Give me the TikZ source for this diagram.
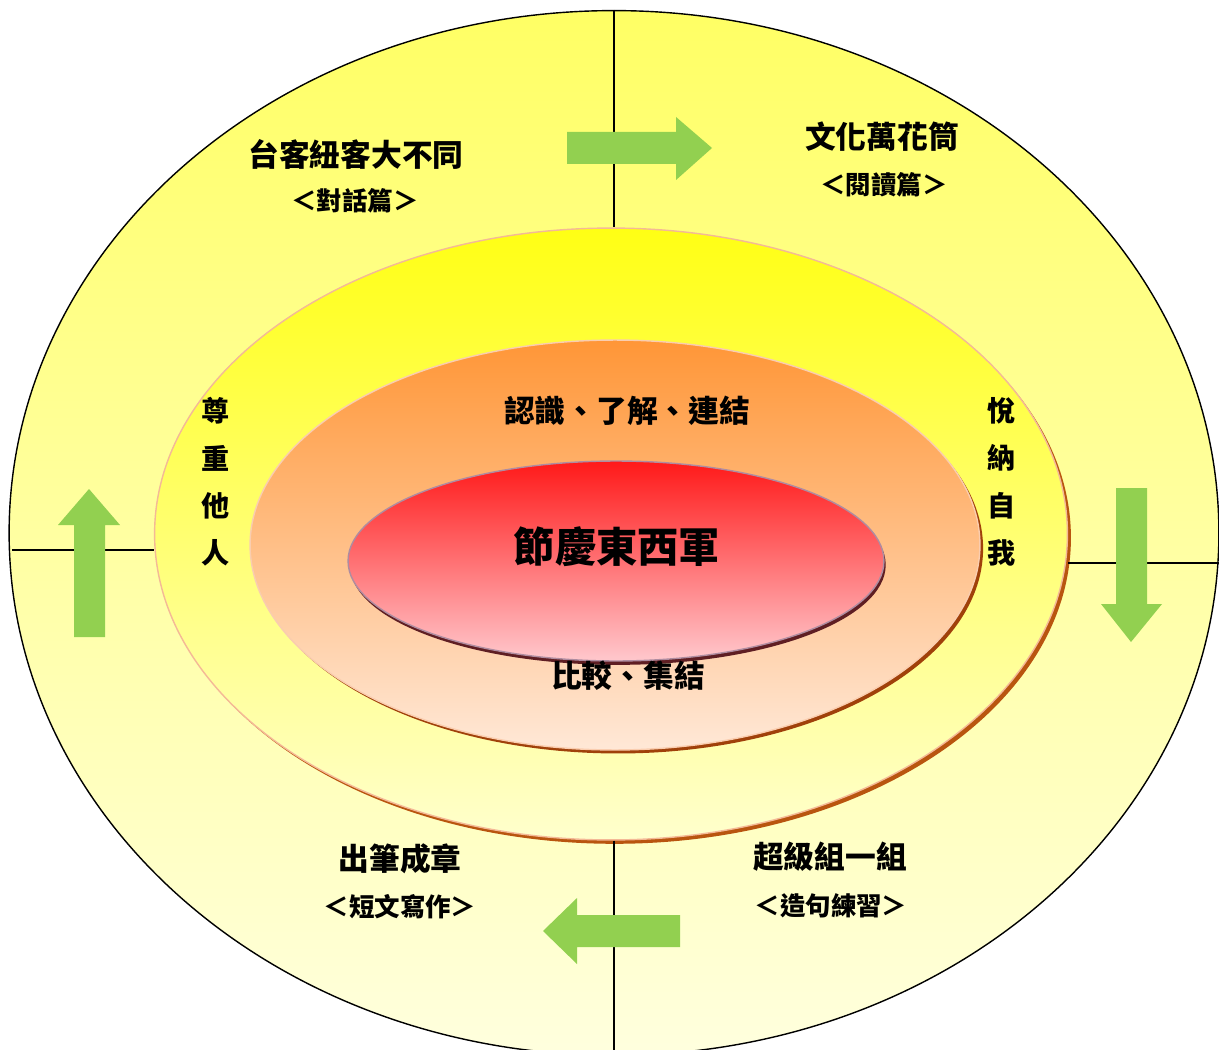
\documentclass[tikz,border=0pt]{standalone}
\usepackage{fontspec}
\setmainfont{Noto Sans CJK TC}
\usepackage{tikz}
\usetikzlibrary{shapes.geometric,shadows}

\definecolor{arrowgreen}{RGB}{146,208,80}
\definecolor{sunA}{RGB}{255,255,100}
\definecolor{sunB}{RGB}{255,255,160}
\definecolor{sunC}{RGB}{255,255,222}
\definecolor{ringA}{RGB}{255,255,20}
\definecolor{ringB}{RGB}{255,255,150}
\definecolor{ringC}{RGB}{255,255,205}
\definecolor{ringedge}{RGB}{244,185,150}
\definecolor{ringshadow}{RGB}{185,85,15}
\definecolor{coreA}{RGB}{255,150,55}
\definecolor{coreB}{RGB}{255,195,150}
\definecolor{coreC}{RGB}{255,232,215}
\definecolor{coreedge}{RGB}{250,205,175}
\definecolor{coreshadow}{RGB}{160,65,10}
\definecolor{heartA}{RGB}{255,25,25}
\definecolor{heartB}{RGB}{255,120,125}
\definecolor{heartC}{RGB}{255,200,205}
\definecolor{heartedge}{RGB}{175,140,160}
\definecolor{heartshadow}{RGB}{95,30,35}

\tikzstyle{disc} =
[
	ellipse,inner sep=0pt,draw
]
\tikzstyle{title} =
[
	inner sep=0pt,font=\fontsize{17.5}{20}\selectfont\bfseries
]
\tikzstyle{subtitle} =
[
	inner sep=0pt,font=\fontsize{14.5}{17}\selectfont\bfseries
]
\tikzstyle{column} =
[
	inner sep=0pt,align=center,font=\fontsize{16}{27}\selectfont\bfseries
]
\tikzstyle{divider} = [draw,line width=0.8pt]
\tikzstyle{turn} = [fill=arrowgreen]

\begin{document}
\begin{tikzpicture}[x=0.02cm,y=-0.02cm]

\useasboundingbox (0,0) rectangle (1219,1050);
\fill[white] (0,0) rectangle (1219,1050);

\begin{scope}
\clip (0,0) rectangle (1219,1050);
\node[disc, line width=0.8pt, minimum width=24.2cm, minimum height=20.9cm,
	top color=sunA, middle color=sunB, bottom color=sunC] (outer) at (614,533) {};
\end{scope}

% rings
\node[disc, draw=ringedge, line width=0.8pt, minimum width=18.26cm, minimum height=12.24cm,
	top color=ringA, middle color=ringB, bottom color=ringC,
	drop shadow={shadow xshift=2pt, shadow yshift=-2.2pt, fill=ringshadow, opacity=1}] (ring) at (611,534) {};
\node[disc, draw=coreedge, line width=0.8pt, minimum width=14.6cm, minimum height=8.2cm,
	top color=coreA, middle color=coreB, bottom color=coreC,
	drop shadow={shadow xshift=1.8pt, shadow yshift=-2pt, fill=coreshadow, opacity=1}] (core) at (615,545) {};
\node[disc, draw=heartedge, line width=0.8pt, minimum width=10.72cm, minimum height=4cm,
	top color=heartA, middle color=heartB, bottom color=heartC,
	drop shadow={shadow xshift=1pt, shadow yshift=-2.2pt, fill=heartshadow, opacity=1}] (heart) at (616,561) {};

% dividers
\coordinate (wl) at (12,550);
\coordinate (el) at (1219,563);
\coordinate (sl) at (614,1050);
\path[divider] (outer.north) -- (outer.north |- ring.north);
\path[divider] (sl |- ring.south) -- (sl);
\path[divider] (wl) -- (wl -| ring.west);
\path[divider] (el) -- (el -| ring.east);

% arrows
\fill[turn] (567,132) -- (676,132) -- (676,117) -- (712,148) -- (676,180) -- (676,164) -- (567,164) -- cycle;
\fill[turn] (1116,488) -- (1147,488) -- (1147,604) -- (1162,604) -- (1131,642) -- (1101,604) -- (1116,604) -- cycle;
\fill[turn] (680,915) -- (577,915) -- (577,898) -- (543,931) -- (577,964) -- (577,947) -- (680,947) -- cycle;
\fill[turn] (74,637) -- (74,525) -- (58,525) -- (89,489) -- (120,525) -- (105,525) -- (105,637) -- cycle;

% labels
\node[title] (talk) at (356,154) {台客紐客大不同};
\node[subtitle] (talks) at (355,201) {＜對話篇＞};
\node[title] (read) at (882,137) {文化萬花筒};
\node[subtitle] (reads) at (884,185) {＜閱讀篇＞};
\node[title] (word) at (830,857) {超級組一組};
\node[subtitle] (words) at (831,906) {＜造句練習＞};
\node[title] (write) at (400,859) {出筆成章};
\node[subtitle] (writes) at (400,907) {＜短文寫作＞};

\node[title] (know) at (627,411) {認識、了解、連結};
\node[inner sep=0pt, font=\fontsize{23.5}{26}\selectfont\bfseries] (fest) at (617,547) {節慶東西軍};
\node[title] (join) at (628,676) {比較、集結};

\node[column] (other) at (216,482) {尊\\重\\他\\人};
\node[column] (self) at (1002,482) {悅\\納\\自\\我};

\end{tikzpicture}
\end{document}
